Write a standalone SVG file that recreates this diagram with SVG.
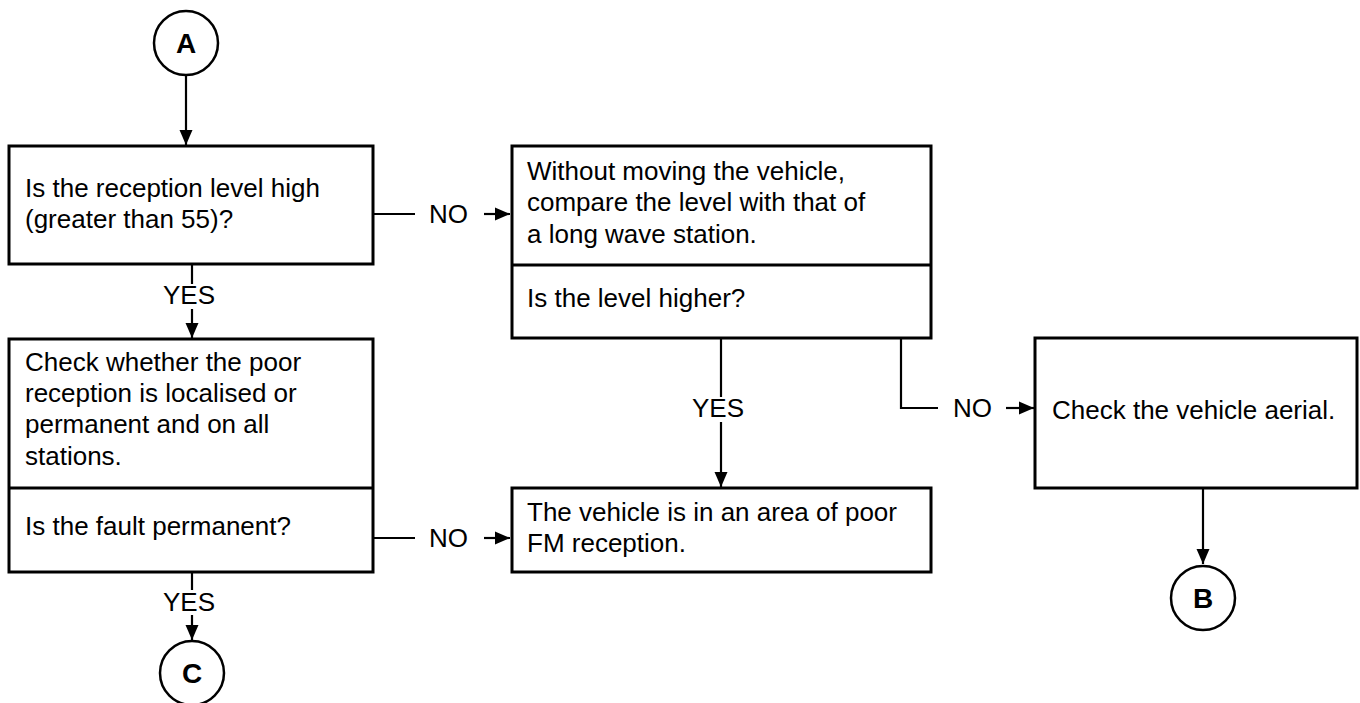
<svg xmlns="http://www.w3.org/2000/svg" width="1360" height="703" viewBox="0 0 1360 703">
<defs>
<style>
.box{fill:#fff;stroke:#000;stroke-width:3}
.div{stroke:#000;stroke-width:3}
.ln{fill:none;stroke:#000;stroke-width:2.2}
.t{font-family:"Liberation Sans",Arial,sans-serif;font-size:26px;fill:#000}
.c{font-family:"Liberation Sans",Arial,sans-serif;font-size:28px;font-weight:bold;fill:#000;text-anchor:middle}
.circ{fill:#fff;stroke:#000;stroke-width:2.5}
</style>
<marker id="ah" markerUnits="userSpaceOnUse" markerWidth="16" markerHeight="16" viewBox="0 0 16 16" refX="15" refY="8" orient="auto">
<path d="M0,1.5 L15,8 L0,14.5 Z" fill="#000"/>
</marker>
</defs>

<g id="connectors">
<line class="ln" x1="186" y1="76" x2="186" y2="145" marker-end="url(#ah)"/>
<line class="ln" x1="373" y1="214" x2="415" y2="214"/>
<text class="t" x="429" y="223">NO</text>
<line class="ln" x1="484" y1="214" x2="510" y2="214" marker-end="url(#ah)"/>
<line class="ln" x1="192" y1="265" x2="192" y2="284"/>
<text class="t" x="163" y="304">YES</text>
<line class="ln" x1="192" y1="309" x2="192" y2="338" marker-end="url(#ah)"/>
<line class="ln" x1="373" y1="538" x2="415" y2="538"/>
<text class="t" x="429" y="547">NO</text>
<line class="ln" x1="484" y1="538" x2="510" y2="538" marker-end="url(#ah)"/>
<line class="ln" x1="192" y1="573" x2="192" y2="590"/>
<text class="t" x="163" y="611">YES</text>
<line class="ln" x1="192" y1="615" x2="192" y2="640" marker-end="url(#ah)"/>
<line class="ln" x1="721" y1="338" x2="721" y2="397"/>
<text class="t" x="692" y="417">YES</text>
<line class="ln" x1="721" y1="422" x2="721" y2="487" marker-end="url(#ah)"/>
<polyline class="ln" points="901,338 901,408 938,408"/>
<text class="t" x="953" y="417">NO</text>
<line class="ln" x1="1006" y1="408" x2="1034" y2="408" marker-end="url(#ah)"/>
<line class="ln" x1="1203" y1="488" x2="1203" y2="564" marker-end="url(#ah)"/>
</g>

<g id="nodeA">
<circle class="circ" cx="186" cy="43" r="32"/>
<text class="c" x="186" y="53">A</text>
</g>

<g id="box1">
<rect class="box" x="9" y="146" width="364" height="118"/>
<text class="t" x="25" y="197">Is the reception level high</text>
<text class="t" x="25" y="228">(greater than 55)?</text>
</g>

<g id="box2">
<rect class="box" x="512" y="146" width="419" height="192"/>
<line class="div" x1="512" y1="265" x2="931" y2="265"/>
<text class="t" x="527" y="180">Without moving the vehicle,</text>
<text class="t" x="527" y="211">compare the level with that of</text>
<text class="t" x="527" y="243">a long wave station.</text>
<text class="t" x="527" y="307">Is the level higher?</text>
</g>

<g id="box3">
<rect class="box" x="9" y="339" width="364" height="233"/>
<line class="div" x1="9" y1="488" x2="373" y2="488"/>
<text class="t" x="25" y="371">Check whether the poor</text>
<text class="t" x="25" y="402">reception is localised or</text>
<text class="t" x="25" y="433">permanent and on all</text>
<text class="t" x="25" y="465">stations.</text>
<text class="t" x="25" y="535">Is the fault permanent?</text>
</g>

<g id="box4">
<rect class="box" x="512" y="488" width="419" height="84"/>
<text class="t" x="527" y="521">The vehicle is in an area of poor</text>
<text class="t" x="527" y="552">FM reception.</text>
</g>

<g id="box5">
<rect class="box" x="1035" y="338" width="322" height="150"/>
<text class="t" x="1052" y="419">Check the vehicle aerial.</text>
</g>

<g id="nodeB">
<circle class="circ" cx="1203" cy="598" r="32"/>
<text class="c" x="1203" y="608">B</text>
</g>

<g id="nodeC">
<circle class="circ" cx="192" cy="673" r="32"/>
<text class="c" x="192" y="683">C</text>
</g>
</svg>
